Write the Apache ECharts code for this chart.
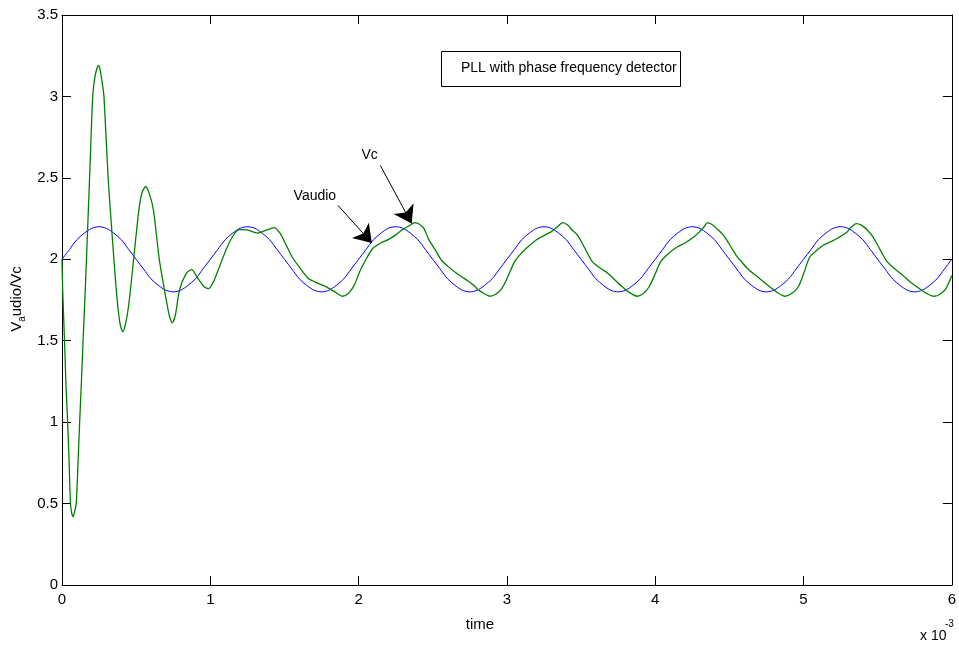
<!DOCTYPE html>
<html>
<head>
<meta charset="utf-8">
<script src="https://cdn.jsdelivr.net/npm/echarts@6/dist/echarts.min.js"></script>
<style>
html,body{margin:0;padding:0;background:#fff;}
#chart{width:959px;height:645px;}
</style>
</head>
<body>
<div id="chart"></div>
<script>
// ---- data (time in units of 1e-3 s) ----
const xTicks = [0, 1, 2, 3, 4, 5, 6];
const yTicks = [0, 0.5, 1, 1.5, 2, 2.5, 3, 3.5];

const blueT = [
0.00,0.05,0.10,0.15,0.20,0.25,0.30,0.35,0.40,0.45,0.50,0.55,0.60,0.65,0.70,0.75,0.80,0.85,0.90,0.95,
1.00,1.05,1.10,1.15,1.20,1.25,1.30,1.35,1.40,1.45,1.50,1.55,1.60,1.65,1.70,1.75,1.80,1.85,1.90,1.95,
2.00,2.05,2.10,2.15,2.20,2.25,2.30,2.35,2.40,2.45,2.50,2.55,2.60,2.65,2.70,2.75,2.80,2.85,2.90,2.95,
3.00,3.05,3.10,3.15,3.20,3.25,3.30,3.35,3.40,3.45,3.50,3.55,3.60,3.65,3.70,3.75,3.80,3.85,3.90,3.95,
4.00,4.05,4.10,4.15,4.20,4.25,4.30,4.35,4.40,4.45,4.50,4.55,4.60,4.65,4.70,4.75,4.80,4.85,4.90,4.95,
5.00,5.05,5.10,5.15,5.20,5.25,5.30,5.35,5.40,5.45,5.50,5.55,5.60,5.65,5.70,5.75,5.80,5.85,5.90,5.95,
6.00];
const blueV = [
2.00,2.06,2.12,2.16,2.19,2.20,2.19,2.16,2.12,2.06,2.00,1.94,1.88,1.84,1.81,1.80,1.81,1.84,1.88,1.94,
2.00,2.06,2.12,2.16,2.19,2.20,2.19,2.16,2.12,2.06,2.00,1.94,1.88,1.84,1.81,1.80,1.81,1.84,1.88,1.94,
2.00,2.06,2.12,2.16,2.19,2.20,2.19,2.16,2.12,2.06,2.00,1.94,1.88,1.84,1.81,1.80,1.81,1.84,1.88,1.94,
2.00,2.06,2.12,2.16,2.19,2.20,2.19,2.16,2.12,2.06,2.00,1.94,1.88,1.84,1.81,1.80,1.81,1.84,1.88,1.94,
2.00,2.06,2.12,2.16,2.19,2.20,2.19,2.16,2.12,2.06,2.00,1.94,1.88,1.84,1.81,1.80,1.81,1.84,1.88,1.94,
2.00,2.06,2.12,2.16,2.19,2.20,2.19,2.16,2.12,2.06,2.00,1.94,1.88,1.84,1.81,1.80,1.81,1.84,1.88,1.94,
2.00];

const greenT = [
0.000,0.005,0.017,0.028,0.038,0.048,0.057,0.066,0.075,0.085,0.096,0.108,0.119,0.131,0.142,0.154,0.165,0.186,0.207,0.222,
0.235,0.246,0.258,0.270,0.283,0.311,0.330,0.350,0.372,0.392,0.410,0.428,0.450,0.483,0.518,0.540,0.564,0.590,0.617,0.656,
0.703,0.725,0.744,0.765,0.792,0.837,0.875,0.905,0.926,0.960,0.989,1.020,1.060,1.105,1.150,1.195,1.250,1.318,1.380,1.430,
1.470,1.510,1.552,1.610,1.664,1.720,1.776,1.840,1.890,1.930,1.970,2.010,2.050,2.095,2.150,2.200,2.250,2.300,2.340,2.380,
2.410,2.440,2.470,2.515,2.559,2.604,2.649,2.694,2.738,2.770,2.805,2.845,2.884,2.925,2.965,3.000,3.051,3.095,3.141,3.200,
3.253,3.300,3.340,3.376,3.410,3.440,3.477,3.530,3.577,3.630,3.678,3.720,3.767,3.820,3.879,3.920,3.958,4.000,4.036,4.090,
4.148,4.200,4.260,4.300,4.330,4.349,4.380,4.420,4.461,4.515,4.550,4.573,4.620,4.662,4.720,4.774,4.825,4.875,4.920,4.964,
5.000,5.042,5.090,5.132,5.190,5.243,5.290,5.320,5.356,5.390,5.430,5.468,5.510,5.557,5.610,5.669,5.720,5.781,5.830,5.881,
5.920,5.960,6.000];
const greenV = [
2.00,1.80,1.50,1.20,1.00,0.75,0.50,0.44,0.42,0.45,0.50,0.75,1.00,1.25,1.50,1.75,2.00,2.50,3.00,3.12,
3.17,3.19,3.16,3.09,3.00,2.50,2.25,2.00,1.75,1.60,1.555,1.60,1.72,2.00,2.30,2.41,2.447,2.40,2.30,2.00,
1.75,1.65,1.61,1.66,1.81,1.912,1.937,1.90,1.87,1.83,1.82,1.86,1.95,2.055,2.14,2.182,2.18,2.161,2.18,2.194,
2.16,2.09,2.014,1.94,1.88,1.855,1.834,1.80,1.773,1.79,1.84,1.93,2.00,2.066,2.10,2.121,2.150,2.185,2.205,2.225,
2.215,2.19,2.127,2.06,1.994,1.955,1.922,1.893,1.867,1.845,1.814,1.790,1.773,1.785,1.82,1.88,1.984,2.035,2.075,2.12,
2.147,2.17,2.20,2.225,2.21,2.18,2.147,2.06,1.984,1.945,1.916,1.88,1.84,1.80,1.773,1.79,1.83,1.91,1.984,2.035,
2.075,2.10,2.137,2.17,2.20,2.223,2.215,2.185,2.147,2.07,2.018,1.994,1.945,1.912,1.87,1.83,1.795,1.773,1.79,1.83,
1.91,2.014,2.055,2.086,2.11,2.137,2.165,2.195,2.219,2.21,2.18,2.137,2.07,1.994,1.945,1.902,1.86,1.82,1.79,1.773,
1.785,1.82,1.90];

// annotation anchors (data coords)
const arrowVaudio = [[1.861, 2.331], [2.089, 2.100]];
const arrowVc = [[2.146, 2.577], [2.358, 2.219]];
const labelVaudio = [1.705, 2.387];
const labelVc = [2.074, 2.642];

// ---- font detection ----
function hasFont(name) {
  const c = document.createElement('canvas').getContext('2d');
  const s = 'PLL with phase frequency detector 0123456789';
  c.font = '20px monospace';
  const w0 = c.measureText(s).width;
  c.font = "20px '" + name + "', monospace";
  return Math.abs(c.measureText(s).width - w0) > 0.5;
}
const narrow = hasFont('Liberation Sans Narrow');
const FF = narrow ? "'Liberation Sans Narrow', 'Liberation Sans', Arial, sans-serif" : "'Liberation Sans', Arial, sans-serif";
const FS_TICK = narrow ? 16 : 15;
const FS_TXT = narrow ? 17 : 14;
const FS_SUB = narrow ? 12 : 10;

const chart = echarts.init(document.getElementById('chart'), null, {renderer: 'canvas'});

const axisCommon = {
  axisLine: {show: true, onZero: false, lineStyle: {color: '#000', width: 1}},
  axisTick: {show: true, inside: true, length: 9, lineStyle: {color: '#000', width: 1}},
  splitLine: {show: false}
};

const option = {
  animation: false,
  backgroundColor: '#fff',
  grid: {left: 62, right: 3, top: 15, bottom: 60, containLabel: false},
  xAxis: [
    Object.assign({type: 'value', position: 'bottom', min: xTicks[0], max: xTicks[xTicks.length-1], interval: 1,
      axisLabel: {show: true, color: '#000', fontFamily: FF, fontSize: FS_TICK, margin: 7,
        formatter: v => String(v)}}, axisCommon),
    Object.assign({type: 'value', position: 'top', min: xTicks[0], max: xTicks[xTicks.length-1], interval: 1,
      axisLabel: {show: false}}, axisCommon)
  ],
  yAxis: [
    Object.assign({type: 'value', position: 'left', min: yTicks[0], max: yTicks[yTicks.length-1], interval: 0.5,
      axisLabel: {show: true, color: '#000', fontFamily: FF, fontSize: FS_TICK, margin: 4,
        formatter: v => String(v)}}, axisCommon),
    Object.assign({type: 'value', position: 'right', min: yTicks[0], max: yTicks[yTicks.length-1], interval: 0.5,
      axisLabel: {show: false}}, axisCommon)
  ],
  series: [
    {
      name: 'Vaudio', type: 'line', xAxisIndex: 0, yAxisIndex: 0,
      data: blueT.map((t, i) => [t, blueV[i]]),
      showSymbol: false, smooth: 0.3, silent: true,
      lineStyle: {color: '#0000ff', width: 1}, itemStyle: {color: '#0000ff'}
    },
    {
      name: 'Vc', type: 'line', xAxisIndex: 0, yAxisIndex: 0,
      data: greenT.map((t, i) => [t, greenV[i]]),
      showSymbol: false, smooth: 0.25, silent: true,
      lineStyle: {color: '#008000', width: 1.3}, itemStyle: {color: '#008000'},
      markLine: {
        silent: true, animation: false,
        symbol: ['none', 'arrow'], symbolSize: 17,
        lineStyle: {color: '#000', width: 1, type: 'solid'},
        itemStyle: {color: '#000'},
        label: {show: false},
        data: [
          [{coord: arrowVaudio[0]}, {coord: arrowVaudio[1]}],
          [{coord: arrowVc[0]}, {coord: arrowVc[1]}]
        ]
      },
      markPoint: {
        silent: true, animation: false,
        symbol: 'circle', symbolSize: 1,
        itemStyle: {color: 'rgba(0,0,0,0)'},
        label: {show: true, position: 'inside', color: '#000', fontFamily: FF, fontSize: FS_TXT},
        data: [
          {coord: labelVaudio, value: 'Vaudio', label: {formatter: 'Vaudio'}},
          {coord: labelVc, value: 'Vc', label: {formatter: 'Vc'}}
        ]
      }
    }
  ],
  graphic: [
    {type: 'rect', left: 441, top: 51, z: 100,
      shape: {x: 0, y: 0, width: 239, height: 35},
      style: {fill: '#fff', stroke: '#000', lineWidth: 1}},
    {type: 'text', x: 461, y: 68.5, z: 101,
      style: {text: 'PLL with phase frequency detector', fill: '#000', font: FS_TXT + 'px ' + FF,
        textAlign: 'left', textVerticalAlign: 'middle'}},
    {type: 'text', x: 480, y: 625, z: 101,
      style: {text: 'time', fill: '#000', font: FS_TICK + 'px ' + FF,
        textAlign: 'center', textVerticalAlign: 'middle'}},
    {type: 'text', x: 920, y: 636, z: 101,
      style: {text: 'x 10', fill: '#000', font: (FS_TICK - 1) + 'px ' + FF,
        textAlign: 'left', textVerticalAlign: 'middle'}},
    {type: 'text', x: 945, y: 624, z: 101,
      style: {text: '-3', fill: '#000', font: FS_SUB + 'px ' + FF,
        textAlign: 'left', textVerticalAlign: 'middle'}},
    {type: 'text', x: 17, y: 299, z: 101, rotation: Math.PI / 2,
      style: {text: '{m|V}{s|a}{m|udio/Vc}', fill: '#000',
        textAlign: 'center', textVerticalAlign: 'middle',
        rich: {
          m: {fontFamily: FF, fontSize: FS_TICK, lineHeight: 20, fill: '#000', verticalAlign: 'middle'},
          s: {fontFamily: FF, fontSize: FS_SUB, lineHeight: 12, fill: '#000', verticalAlign: 'bottom', padding: [6, 0, 0, 0]}
        }}}
  ]
};
chart.setOption(option);
</script>
</body>
</html>
